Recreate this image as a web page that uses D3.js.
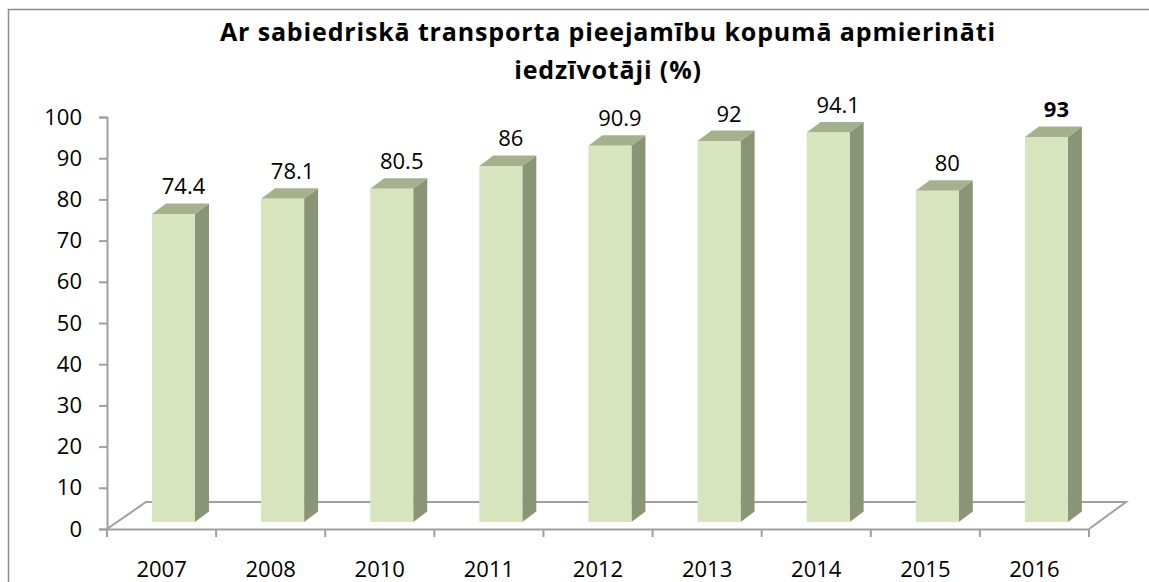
<!DOCTYPE html>
<html>
<head>
<meta charset="utf-8">
<script src="https://cdn.jsdelivr.net/npm/d3@7"></script>
<style>
html,body{margin:0;padding:0;background:#fff;overflow:hidden;}
svg{display:block;font-family:"Open Sans",sans-serif;}
</style>
</head>
<body>
<svg id="chart" width="1149" height="582"></svg>
<script>
const categories = ["2007","2008","2010","2011","2012","2013","2014","2015","2016"];
const values = [74.4, 78.1, 80.5, 86, 90.9, 92, 94.1, 80, 93];
const valueLabels = ["74.4","78.1","80.5","86","90.9","92","94.1","80","93"];
const boldLabels = [false,false,false,false,false,false,false,false,true];
const yTicks = [0,10,20,30,40,50,60,70,80,90,100];
const titleLines = ["Ar sabiedriskā transporta pieejamību kopumā apmierināti","iedzīvotāji (%)"];

const svg = d3.select("#chart");

// outer chart border
svg.append("rect").attr("x",8.5).attr("y",9.5).attr("width",1200).attr("height",600)
  .attr("fill","#fff").attr("stroke","#8c8c8c").attr("stroke-width",1.5);

const x0 = 107, x1 = 1089, yBase = 529, yTop = 117;
const depthX = 37, depthY = 27; // floor depth
const x = d3.scaleBand().domain(categories).range([x0, x1]).padding(0);
const yAxisScale = d3.scaleLinear().domain([0,100]).range([yBase, yTop]);
const yBar = d3.scaleLinear().domain([0,100]).range([522, 108]);
const barDx = 14, barDy = 10.5;
const lineCol = "#a0a0a0";
const fsz = 22;

// floor
svg.append("path")
  .attr("d", `M${x0},${yBase} L${x0+depthX+2},${yBase-depthY} L${x1+depthX},${yBase-depthY} L${x1},${yBase}`)
  .attr("fill","none").attr("stroke",lineCol).attr("stroke-width",2);

// y axis
const yAxis = d3.axisLeft(yAxisScale).tickValues(yTicks).tickSize(8).tickPadding(17).tickFormat(d3.format("d"));
const gy = svg.append("g").attr("transform",`translate(${x0},0)`).call(yAxis);
gy.select(".domain").attr("stroke",lineCol).attr("stroke-width",2);
gy.selectAll(".tick line").attr("stroke",lineCol).attr("stroke-width",2);
gy.selectAll(".tick text").attr("font-size",fsz).attr("fill","#000").attr("font-family","'Open Sans',sans-serif");

// x axis
const xAxis = d3.axisBottom(x).tickSize(0).tickPadding(32);
const gx = svg.append("g").attr("transform",`translate(0,${yBase})`).call(xAxis);
gx.select(".domain").attr("stroke",lineCol).attr("stroke-width",2);
gx.selectAll(".tick text").attr("font-size",fsz).attr("fill","#000").attr("font-family","'Open Sans',sans-serif");
const bounds = categories.map(c => x(c)).concat([x1]);
gx.selectAll("line.bt").data(bounds).enter().append("line").attr("class","bt")
  .attr("x1",d=>d).attr("x2",d=>d).attr("y1",0).attr("y2",8)
  .attr("stroke",lineCol).attr("stroke-width",2);

// bars
const bars = svg.append("g");
const data = categories.map((c,i)=>({c, v:values[i], lab:valueLabels[i], bold:boldLabels[i]}));
data.forEach(d => {
  const L = x(d.c) + 45, R = L + 43;
  const top = yBar(d.v), bot = yBar(0);
  bars.append("path")
    .attr("d",`M${R},${bot} L${R+barDx},${bot-barDy} L${R+barDx},${top-barDy} L${R},${top} Z`)
    .attr("fill","#8a9577");
  bars.append("path")
    .attr("d",`M${L},${top} L${L+barDx},${top-barDy} L${R+barDx},${top-barDy} L${R},${top} Z`)
    .attr("fill","#a5b08e");
  bars.append("rect").attr("x",L).attr("y",top).attr("width",R-L).attr("height",bot-top)
    .attr("fill","#d7e4bd");
  bars.append("text")
    .attr("x",(L+R)/2 + 10).attr("y",top - barDy - 9)
    .attr("text-anchor","middle").attr("font-size",fsz)
    .attr("font-weight",d.bold?"bold":"normal").attr("fill","#000")
    .text(d.lab);
});

// title
const tg = svg.append("g");
const tfs = 25;
const t1 = tg.append("text").attr("x",608).attr("y",41).attr("text-anchor","middle")
  .attr("font-weight","bold").attr("font-size",tfs).attr("fill","#000").text(titleLines[0]);
const w1 = t1.node().getComputedTextLength();
const ls = (776 - w1) / titleLines[0].length;
t1.attr("letter-spacing", ls);
tg.append("text").attr("x",608).attr("y",79).attr("text-anchor","middle")
  .attr("font-weight","bold").attr("font-size",tfs).attr("letter-spacing", ls).attr("fill","#000").text(titleLines[1]);
</script>
</body>
</html>
